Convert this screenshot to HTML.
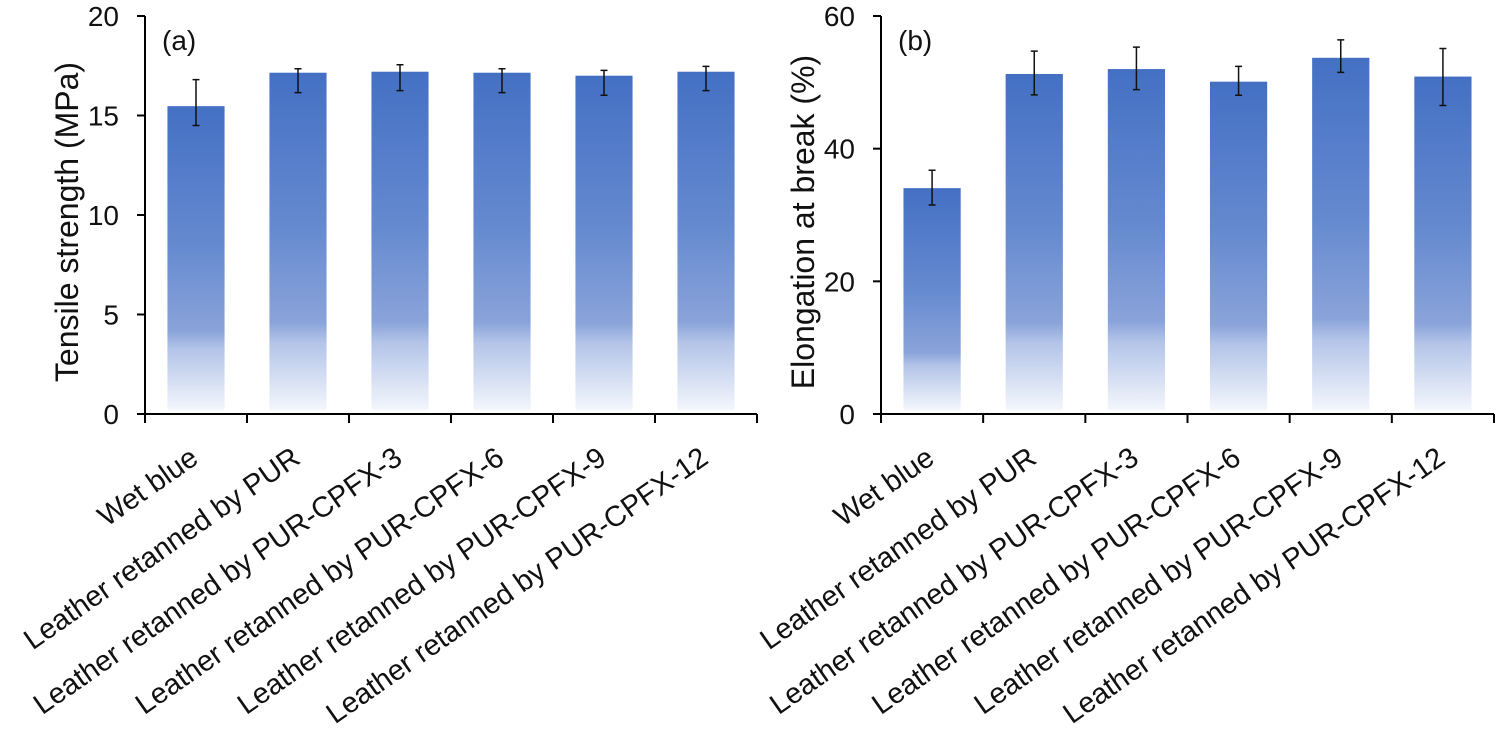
<!DOCTYPE html>
<html><head><meta charset="utf-8"><style>
html,body{margin:0;padding:0;background:#fff;}
svg{display:block;font-family:"Liberation Sans",Arial,sans-serif;}
</style></head><body>
<svg id="chart" width="1500" height="730" viewBox="0 0 1500 730">
<defs>
<linearGradient id="barGrad" x1="0" y1="0" x2="0" y2="1">
<stop offset="0" stop-color="#4470c4"/>
<stop offset="0.45" stop-color="#6489cf"/>
<stop offset="0.74" stop-color="#8aa3da"/>
<stop offset="0.8" stop-color="#b3c4e8"/>
<stop offset="1" stop-color="#f3f6fc"/>
</linearGradient>
</defs>
</svg>
<script>
const categories = ["Wet blue","Leather retanned by PUR","Leather retanned by PUR-CPFX-3","Leather retanned by PUR-CPFX-6","Leather retanned by PUR-CPFX-9","Leather retanned by PUR-CPFX-12"];
const tensileValues = [15.47, 17.15, 17.2, 17.15, 17.0, 17.2];
const tensileErrUp = [1.33, 0.2, 0.35, 0.2, 0.27, 0.27];
const tensileErrDown = [0.97, 1.0, 0.95, 1.0, 0.98, 0.95];
const tensileTicks = [0, 5, 10, 15, 20];
const elongValues = [34.05, 51.26, 52.0, 50.1, 53.7, 50.87];
const elongErrUp = [2.7, 3.44, 3.3, 2.3, 2.7, 4.23];
const elongErrDown = [2.55, 3.16, 3.1, 2.05, 2.2, 4.37];
const elongTicks = [0, 20, 40, 60];

const NS = "http://www.w3.org/2000/svg";
const svg = document.getElementById("chart");
function mk(tag, attrs, parent){
  const e = document.createElementNS(NS, tag);
  for (const k in attrs) e.setAttribute(k, attrs[k]);
  (parent||svg).appendChild(e);
  return e;
}
function panel(cfg){
  const g = mk("g", {});
  
  
  const y0 = 414, yTop = 16;
  const yScale = v => y0 - (v / cfg.max) * (y0 - yTop);
  const n = categories.length;
  const step = (cfg.x1 - cfg.x0) / n;
  const xCenter = i => cfg.x0 + step * (i + 0.5);
  const bw = step * 0.56;
  cfg.values.forEach((v, i) => {
    const r = mk("rect", {x: xCenter(i) - bw/2, y: yScale(v), width: bw, height: (y0 - 4) - yScale(v), fill: "url(#barGrad)"}, g);
    
    
    const hi = yScale(v + cfg.up[i]), lo = yScale(v - cfg.down[i]), cx = xCenter(i);
    const eb = mk("path", {d: `M${cx},${hi}V${lo}M${cx-3.5},${hi}H${cx+3.5}M${cx-3.5},${lo}H${cx+3.5}`, stroke: "#111", "stroke-width": 1.5, fill: "none"}, g);
    
    
  });
  const ya = mk("line", {x1: cfg.x0, y1: yTop, x2: cfg.x0, y2: y0, stroke: "#000", "stroke-width": 2}, g);
  
  
  const xa = mk("line", {x1: cfg.x0 - 8, y1: y0, x2: cfg.x1, y2: y0, stroke: "#000", "stroke-width": 2}, g);
  
  
  cfg.ticks.forEach(t => {
    const y = yScale(t);
    mk("line", {x1: cfg.x0 - 8, y1: y, x2: cfg.x0, y2: y, stroke: "#000", "stroke-width": 2}, g);
    const tl = mk("text", {x: cfg.x0 - 26, y: y + 10, "text-anchor": "end", "font-size": 28, fill: "#111"}, g);
    tl.textContent = t;
    
    
  });
  for (let i = 0; i <= n; i++) {
    const x = cfg.x0 + step * i;
    mk("line", {x1: x, y1: y0, x2: x, y2: y0 + 9, stroke: "#000", "stroke-width": 2}, g);
  }
  categories.forEach((c, i) => {
    const x = xCenter(i) + 4, y = 462;
    const t = mk("text", {x: x, y: y, "text-anchor": "end", "font-size": 29, fill: "#111", transform: `rotate(-35 ${x} ${y})`}, g);
    t.textContent = c;
    
    
  });
  const tx = cfg.x0 - 67, ty = 222;
  const title = mk("text", {x: tx, y: ty, "text-anchor": "middle", "font-size": 32, fill: "#111", transform: `rotate(-90 ${tx} ${ty})`}, g);
  title.textContent = cfg.title;
  
  
  const pl = mk("text", {x: cfg.x0 + 17, y: 50, "font-size": 28, fill: "#111"}, g);
  pl.textContent = cfg.label;
  
  
}
panel({name: "panel-a-tensile", x0: 145, x1: 757, max: 20, values: tensileValues, up: tensileErrUp, down: tensileErrDown, ticks: tensileTicks, title: "Tensile strength (MPa)", label: "(a)"});
panel({name: "panel-b-elongation", x0: 881, x1: 1494, max: 60, values: elongValues, up: elongErrUp, down: elongErrDown, ticks: elongTicks, title: "Elongation at break (%)", label: "(b)"});
</script>
</body></html>
